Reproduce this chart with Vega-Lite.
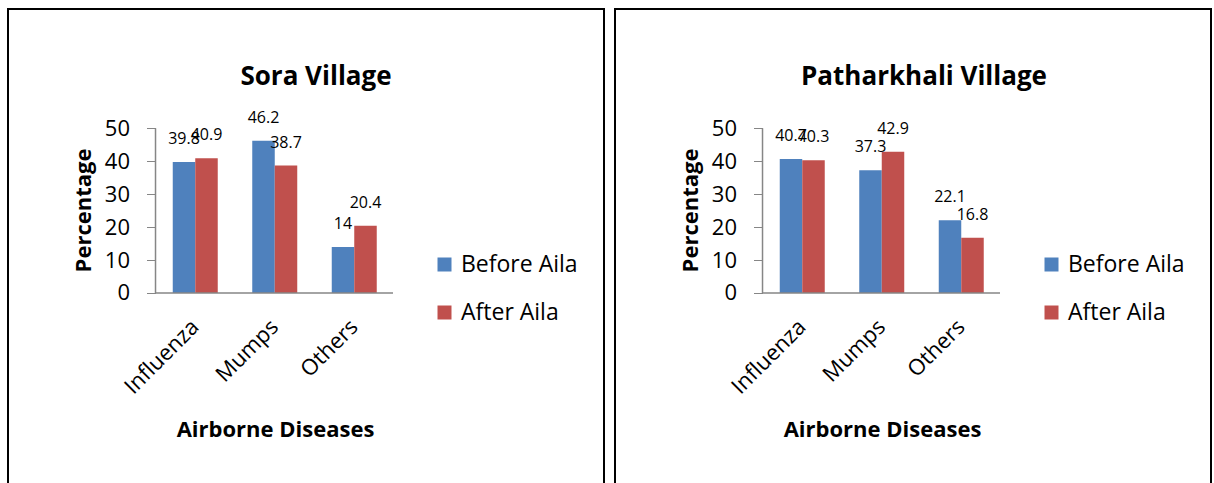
{
  "$schema": "https://vega.github.io/schema/vega-lite/v6.json",
  "padding": {"left": 7, "top": 8, "right": 0, "bottom": -17},
  "spacing": 11,
  "bounds": "flush",
  "config": {
    "view": {"stroke": "black", "strokeWidth": 2},
    "font": "Open Sans"
  },
  "datasets": {
    "rates": [
      {"village": "Sora", "disease": "Influenza", "period": "Before Aila", "value": 39.8},
      {"village": "Sora", "disease": "Influenza", "period": "After Aila", "value": 40.9},
      {"village": "Sora", "disease": "Mumps", "period": "Before Aila", "value": 46.2},
      {"village": "Sora", "disease": "Mumps", "period": "After Aila", "value": 38.7},
      {"village": "Sora", "disease": "Others", "period": "Before Aila", "value": 14},
      {"village": "Sora", "disease": "Others", "period": "After Aila", "value": 20.4},
      {"village": "Patharkhali", "disease": "Influenza", "period": "Before Aila", "value": 40.7},
      {"village": "Patharkhali", "disease": "Influenza", "period": "After Aila", "value": 40.3},
      {"village": "Patharkhali", "disease": "Mumps", "period": "Before Aila", "value": 37.3},
      {"village": "Patharkhali", "disease": "Mumps", "period": "After Aila", "value": 42.9},
      {"village": "Patharkhali", "disease": "Others", "period": "Before Aila", "value": 22.1},
      {"village": "Patharkhali", "disease": "Others", "period": "After Aila", "value": 16.8}
    ],
    "one": [{}]
  },
  "resolve": {"scale": {"color": "independent", "x": "independent", "y": "independent"}, "legend": {"color": "independent"}},
  "hconcat": [
    {
      "width": 596,
      "height": 490,
      "title": {"text": "Sora Village", "font": "Open Sans", "fontSize": 26, "fontWeight": "bold", "color": "black", "anchor": "middle", "frame": "group", "offset": 0, "dx": 10, "dy": 81},
      "layer": [
        {
          "data": {"name": "rates"},
          "transform": [{"filter": "datum.village === 'Sora'"}],
          "mark": {"type": "bar"},
          "encoding": {
            "x": {"field": "disease", "type": "nominal", "sort": ["Influenza", "Mumps", "Others"],
              "scale": {"range": [147.5, 386], "paddingInner": 0.434, "paddingOuter": 0.217},
              "axis": {"orient": "bottom", "offset": -206, "domain": false, "ticks": false, "grid": false,
                "labelAngle": -45, "labelAlign": "right", "labelBaseline": "middle", "labelPadding": 30,
                "labelFont": "Open Sans", "labelFontSize": 22, "labelColor": "black",
                "title": "Airborne Diseases", "titleFont": "Open Sans", "titleFontSize": 22, "titleFontWeight": "bold", "titleColor": "black",
                "titleX": 267, "titleY": 143, "titleAlign": "center", "titleBaseline": "alphabetic"}},
            "xOffset": {"field": "period", "type": "nominal", "sort": ["Before Aila", "After Aila"]},
            "y": {"field": "value", "type": "quantitative", "stack": null,
              "scale": {"domain": [-62.54, 86.22], "nice": false, "zero": false},
              "axis": {"orient": "left", "offset": -147.5, "values": [0, 10, 20, 30, 40, 50], "domain": false, "grid": false,
                "tickColor": "#868686", "tickSize": 9, "labelPadding": 17,
                "labelFont": "Open Sans", "labelFontSize": 22, "labelColor": "black",
                "title": "Percentage", "titleFont": "Open Sans", "titleFontSize": 22, "titleFontWeight": "bold", "titleColor": "black",
                "titleAngle": -90, "titleX": -72, "titleY": 201, "titleAlign": "center", "titleBaseline": "middle"}},
            "color": {"field": "period", "type": "nominal",
              "scale": {"domain": ["Before Aila", "After Aila"], "range": ["#4F81BD", "#C0504D"]},
              "legend": {"orient": "none", "legendX": 425, "legendY": 244, "title": null, "padding": 0,
                "symbolType": "square", "symbolSize": 196, "symbolStrokeWidth": 0,
                "labelFont": "Open Sans", "labelFontSize": 23, "labelColor": "black", "labelOffset": 5, "rowPadding": 24}}
          }
        },
        {
          "data": {"name": "rates"},
          "transform": [{"filter": "datum.village === 'Sora'"}],
          "mark": {"type": "text", "dy": -23, "baseline": "middle", "align": "center", "font": "Open Sans", "fontSize": 16, "color": "black"},
          "encoding": {
            "x": {"field": "disease", "type": "nominal", "sort": ["Influenza", "Mumps", "Others"]},
            "xOffset": {"field": "period", "type": "nominal", "sort": ["Before Aila", "After Aila"]},
            "y": {"field": "value", "type": "quantitative", "stack": null},
            "text": {"field": "value", "type": "quantitative"}
          }
        },
        {
          "data": {"name": "one"},
          "mark": {"type": "rule", "color": "#868686", "strokeWidth": 1.5},
          "encoding": {
            "x": {"datum": "Influenza", "bandPosition": -0.383},
            "y": {"datum": 0, "type": "quantitative"},
            "y2": {"datum": 50}
          }
        },
        {
          "data": {"name": "one"},
          "mark": {"type": "rule", "color": "#868686", "strokeWidth": 1.5},
          "encoding": {
            "x": {"datum": "Influenza", "bandPosition": -0.383},
            "x2": {"datum": "Others", "bandPosition": 1.361},
            "y": {"datum": 0, "type": "quantitative"}
          }
        }
      ]
    },
    {
      "width": 596,
      "height": 490,
      "title": {"text": "Patharkhali Village", "font": "Open Sans", "fontSize": 26, "fontWeight": "bold", "color": "black", "anchor": "middle", "frame": "group", "offset": 0, "dx": 11, "dy": 81},
      "layer": [
        {
          "data": {"name": "rates"},
          "transform": [{"filter": "datum.village === 'Patharkhali'"}],
          "mark": {"type": "bar"},
          "encoding": {
            "x": {"field": "disease", "type": "nominal", "sort": ["Influenza", "Mumps", "Others"],
              "scale": {"range": [147.5, 386], "paddingInner": 0.434, "paddingOuter": 0.217},
              "axis": {"orient": "bottom", "offset": -206, "domain": false, "ticks": false, "grid": false,
                "labelAngle": -45, "labelAlign": "right", "labelBaseline": "middle", "labelPadding": 30,
                "labelFont": "Open Sans", "labelFontSize": 22, "labelColor": "black",
                "title": "Airborne Diseases", "titleFont": "Open Sans", "titleFontSize": 22, "titleFontWeight": "bold", "titleColor": "black",
                "titleX": 267, "titleY": 143, "titleAlign": "center", "titleBaseline": "alphabetic"}},
            "xOffset": {"field": "period", "type": "nominal", "sort": ["Before Aila", "After Aila"]},
            "y": {"field": "value", "type": "quantitative", "stack": null,
              "scale": {"domain": [-62.54, 86.22], "nice": false, "zero": false},
              "axis": {"orient": "left", "offset": -147.5, "values": [0, 10, 20, 30, 40, 50], "domain": false, "grid": false,
                "tickColor": "#868686", "tickSize": 9, "labelPadding": 17,
                "labelFont": "Open Sans", "labelFontSize": 22, "labelColor": "black",
                "title": "Percentage", "titleFont": "Open Sans", "titleFontSize": 22, "titleFontWeight": "bold", "titleColor": "black",
                "titleAngle": -90, "titleX": -72, "titleY": 201, "titleAlign": "center", "titleBaseline": "middle"}},
            "color": {"field": "period", "type": "nominal",
              "scale": {"domain": ["Before Aila", "After Aila"], "range": ["#4F81BD", "#C0504D"]},
              "legend": {"orient": "none", "legendX": 425, "legendY": 244, "title": null, "padding": 0,
                "symbolType": "square", "symbolSize": 196, "symbolStrokeWidth": 0,
                "labelFont": "Open Sans", "labelFontSize": 23, "labelColor": "black", "labelOffset": 5, "rowPadding": 24}}
          }
        },
        {
          "data": {"name": "rates"},
          "transform": [{"filter": "datum.village === 'Patharkhali'"}],
          "mark": {"type": "text", "dy": -23, "baseline": "middle", "align": "center", "font": "Open Sans", "fontSize": 16, "color": "black"},
          "encoding": {
            "x": {"field": "disease", "type": "nominal", "sort": ["Influenza", "Mumps", "Others"]},
            "xOffset": {"field": "period", "type": "nominal", "sort": ["Before Aila", "After Aila"]},
            "y": {"field": "value", "type": "quantitative", "stack": null},
            "text": {"field": "value", "type": "quantitative"}
          }
        },
        {
          "data": {"name": "one"},
          "mark": {"type": "rule", "color": "#868686", "strokeWidth": 1.5},
          "encoding": {
            "x": {"datum": "Influenza", "bandPosition": -0.383},
            "y": {"datum": 0, "type": "quantitative"},
            "y2": {"datum": 50}
          }
        },
        {
          "data": {"name": "one"},
          "mark": {"type": "rule", "color": "#868686", "strokeWidth": 1.5},
          "encoding": {
            "x": {"datum": "Influenza", "bandPosition": -0.383},
            "x2": {"datum": "Others", "bandPosition": 1.361},
            "y": {"datum": 0, "type": "quantitative"}
          }
        }
      ]
    }
  ]
}
